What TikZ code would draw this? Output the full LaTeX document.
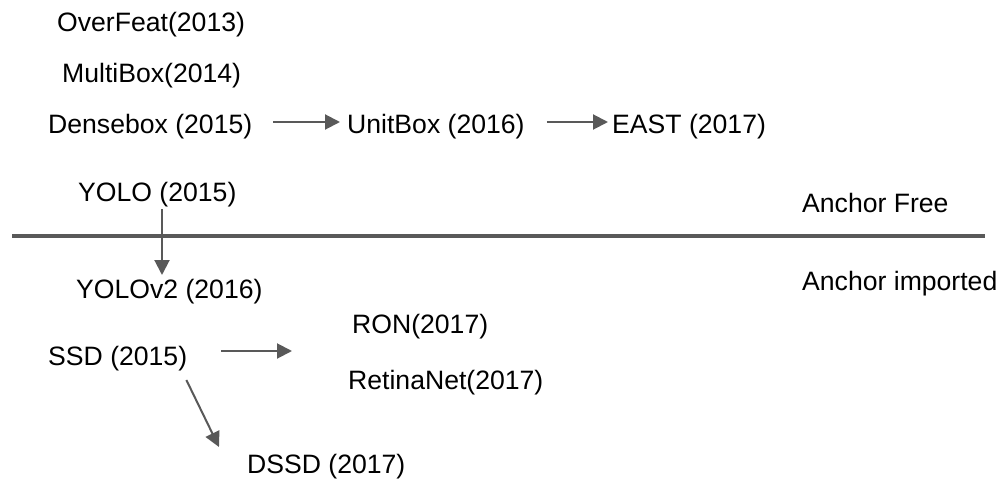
\documentclass[tikz,border=0pt]{standalone}
\usepackage{fontspec}
\setmainfont{Liberation Sans}
\usetikzlibrary{arrows.meta}
\definecolor{linegray}{HTML}{595959}
\tikzset{
  lbl/.style={anchor=base west, inner sep=0pt, font=\fontsize{26.6}{30}\selectfont, text=black},
  conn/.style={draw=linegray, line width=2pt, -{Triangle[length=15pt,width=15pt]}},
  divider/.style={draw=linegray, line width=4pt}
}
\begin{document}
\begin{tikzpicture}[x=1pt,y=-1pt]
\useasboundingbox (0,0) rectangle (999,479);
\fill[white] (0,0) rectangle (999,479);

% anchor-free detectors
\node[lbl] (over)   at (57,31)  {OverFeat(2013)};
\node[lbl] (multi)  at (62,82)  {MultiBox(2014)};
\node[lbl] (dense)  at (48,133) {Densebox (2015)};
\node[lbl] (unit)   at (347,133) {UnitBox (2016)};
\node[lbl] (east)   at (612,133) {EAST (2017)};
\node[lbl] (yolo)   at (78,201) {YOLO (2015)};
\node[lbl] (afree)  at (802,212) {Anchor Free};

% divider between the two families
\coordinate (divl) at (12,236);
\coordinate (divr) at (985,236);
\draw[divider] (divl) -- (divr);

% anchor-based detectors
\node[lbl] (yolov2) at (76,298) {YOLOv2 (2016)};
\node[lbl] (aimp)   at (802,290) {Anchor imported};
\node[lbl] (ron)    at (352,333) {RON(2017)};
\node[lbl] (ssd)    at (48,365) {SSD (2015)};
\node[lbl] (retina) at (348,389) {RetinaNet(2017)};
\node[lbl] (dssd)   at (247,473) {DSSD (2017)};

% lineage arrows
\draw[conn] ([shift={(21,-11)}]dense.base east) -- ([shift={(-7,-11)}]unit.base west);
\draw[conn] ([shift={(22,-11)}]unit.base east) -- ([shift={(-4,-11)}]east.base west);
\draw[conn] ([shift={(84,8)}]yolo.base west) -- ([shift={(86,-23)}]yolov2.base west);
\draw[conn] ([shift={(34,-14)}]ssd.base east) -- ([shift={(-60,18)}]ron.base west);
\draw[conn] ([shift={(-1,15)}]ssd.base east) -- ([shift={(-28,-26)}]dssd.base west);
\end{tikzpicture}
\end{document}
